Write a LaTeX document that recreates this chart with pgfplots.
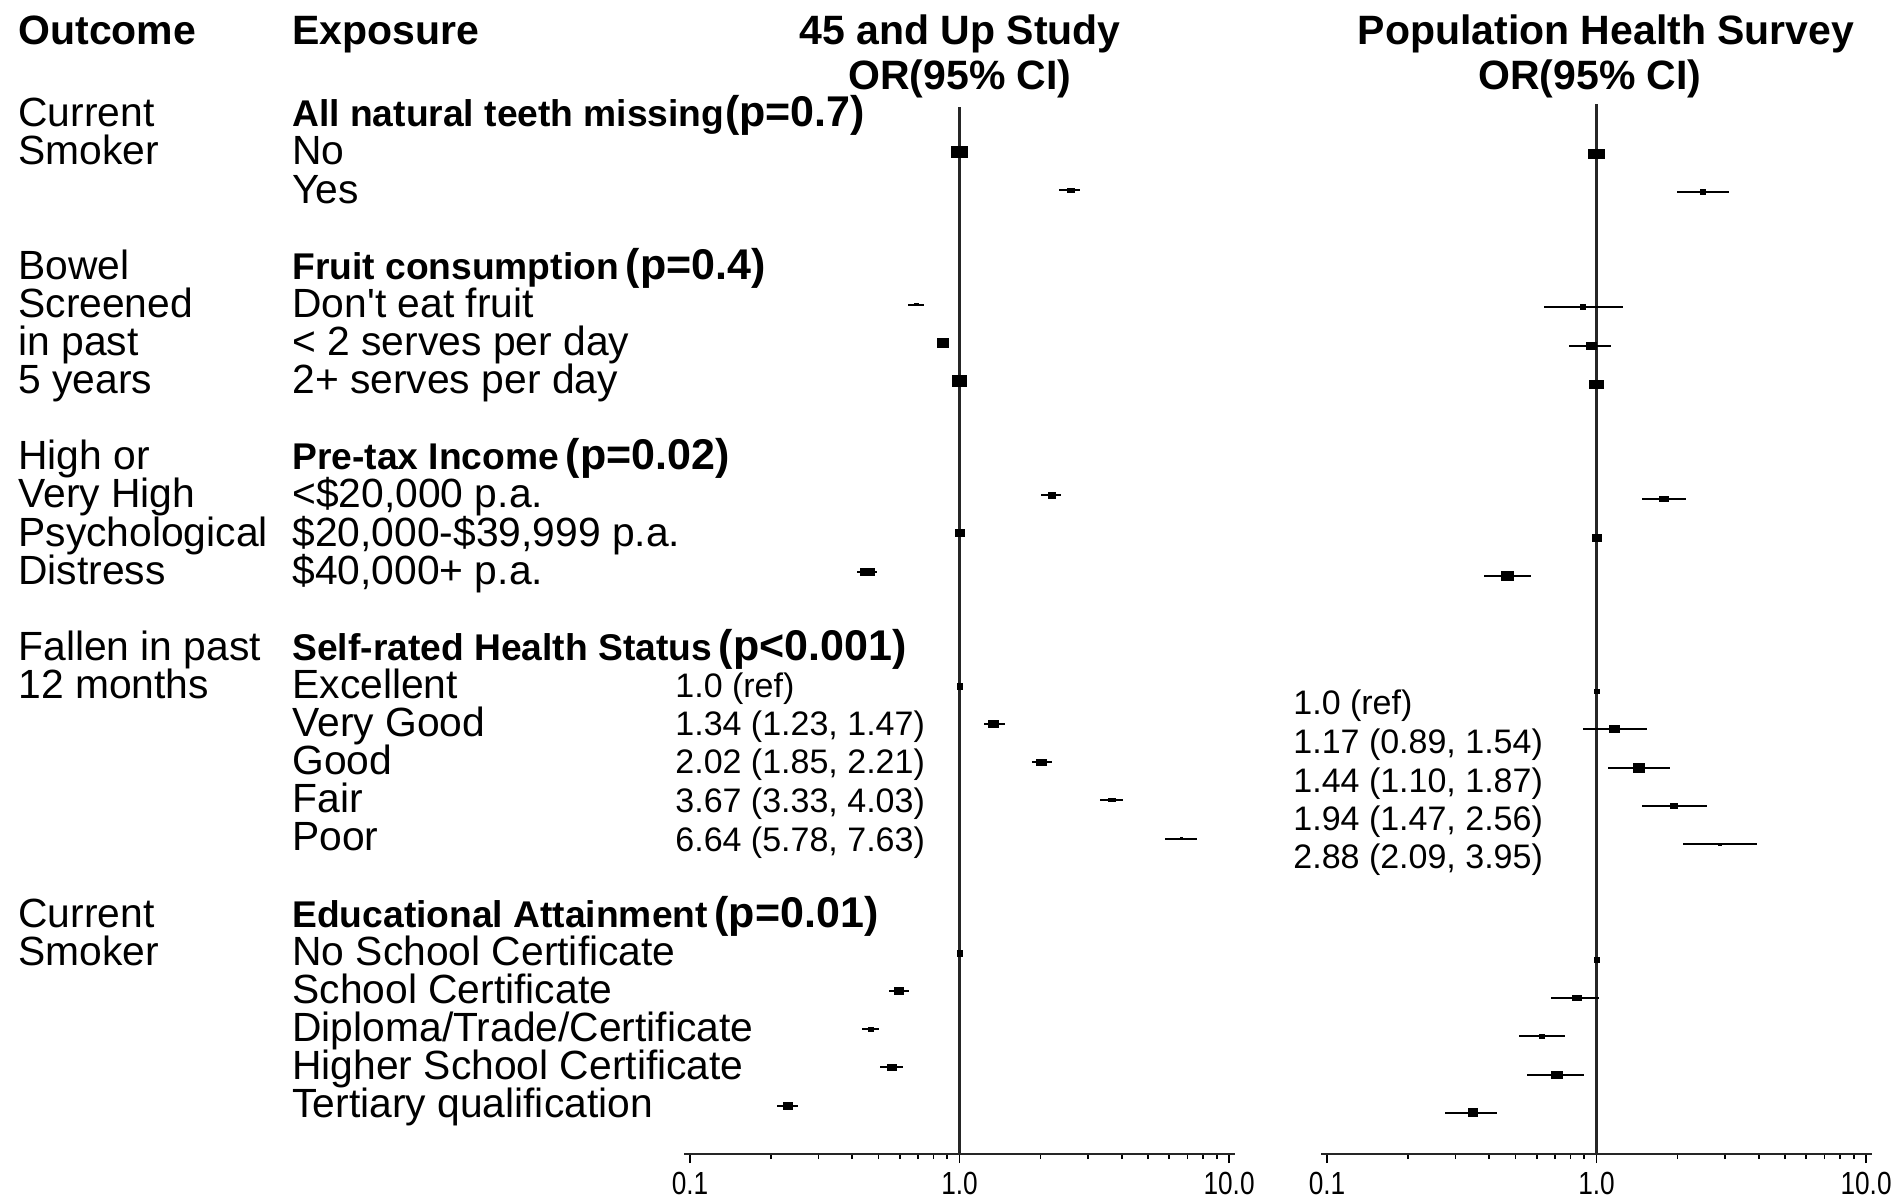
\documentclass[border=0pt]{standalone}
\usepackage{pgfplots}
\pgfplotsset{compat=1.18}
\usepackage{pgfplotstable}
\usepackage{fontspec}
\setmainfont{Liberation Sans}
\newfontfamily\narrowsans[FakeStretch=0.82]{Liberation Sans}

\newcommand\hdr{\fontsize{20.5}{20.5}\bfseries\selectfont}
\newcommand\reg{\fontsize{20.4}{20.4}\selectfont}
\newcommand\sub{\fontsize{18.6}{18.6}\bfseries\selectfont}
\newcommand\pv{\fontsize{21.5}{21.5}\bfseries\selectfont}
\newcommand\val{\fontsize{17}{17}\selectfont}
\newcommand\tkl{\narrowsans\fontsize{16}{16}\selectfont}
\newcommand\by[1]{126.9+38.1*#1}

% 45 and Up Study: row (negative), OR, lower, upper, box width/height (px)
\pgfplotstableread{
row or lo hi w h
-1 1.00 1.00 1.00 17 12
-2 2.59 2.34 2.81 8 5
-5 0.69 0.645 0.738 5 3
-6 0.87 0.85 0.89 12 10
-7 1.00 1.00 1.00 15 12
-10 2.20 2.01 2.38 8 7
-11 1.00 1.00 1.00 10 8
-12 0.455 0.415 0.495 15 8
-15 1.00 1.00 1.00 6 7
-16 1.34 1.23 1.47 11 8
-17 2.02 1.85 2.21 11 7
-18 3.67 3.33 4.03 8 4
-19 6.64 5.78 7.63 3 3
-22 1.00 1.00 1.00 6 7
-23 0.596 0.548 0.647 10 8
-24 0.468 0.435 0.504 6 5
-25 0.562 0.505 0.615 10 7
-26 0.230 0.211 0.2515 10 8
}\tabA

% Population Health Survey
\pgfplotstableread{
row or lo hi w h
-1 1.00 1.00 1.00 17 10
-2 2.48 1.99 3.10 6 6
-5 0.891 0.638 1.249 6 6
-6 0.956 0.788 1.132 11 8
-7 1.00 1.00 1.00 15 9
-10 1.785 1.478 2.154 10 6
-11 1.00 1.00 1.00 10 8
-12 0.468 0.382 0.573 13 10
-15 1.00 1.00 1.00 6 5
-16 1.17 0.89 1.54 11 8
-17 1.44 1.10 1.87 12 10
-18 1.94 1.47 2.56 8 6
-19 2.88 2.09 3.95 4 3
-22 1.00 1.00 1.00 6 6
-23 0.847 0.680 1.025 10 6
-24 0.630 0.514 0.762 6 5
-25 0.714 0.550 0.896 12 8
-26 0.3475 0.2745 0.4266 10 9
}\tabB

\pgfdeclareplotmark{fbox}{%
  \pgfpathrectangle{\pgfpoint{-0.25pt*\mw}{-0.25pt*\mh}}{\pgfpoint{0.5pt*\mw}{0.5pt*\mh}}%
  \pgfusepathqfill}

\begin{document}
\begin{tikzpicture}
\begin{scope}[x=0.5pt,y=-0.5pt]
\path[use as bounding box] (0,0) rectangle (1899,1203);
\end{scope}

\begin{axis}[at={(342pt,-577pt)}, anchor=south west,
    xmode=log, xmin=0.095, xmax=10.52,
    scale only axis, width=275.5pt, height=523.5pt, ymin=-27.27, ymax=0.18,
    axis x line=bottom, axis y line=none,
    x axis line style={-, line width=1pt, black!85},
    xtick={0.1,1,10}, xticklabels={0.1,1.0,10.0},
    minor xtick={0.2,0.3,0.4,0.5,0.6,0.7,0.8,0.9,2,3,4,5,6,7,8,9},
    xtick pos=bottom, xtick align=outside,
    major tick length=4.5pt, minor tick length=2.5pt,
    every tick/.style={black, line width=0.8pt},
    ytick=\empty,
    xticklabel style={font=\tkl, anchor=base, yshift=-15.5pt, inner sep=0pt},
    clip=false]
\addplot[black!85, line width=1.1pt] coordinates {(1,-27.27) (1,0.18)};
\addplot[black, only marks, mark=fbox,
    visualization depends on={\thisrow{w}\as\mw},
    visualization depends on={\thisrow{h}\as\mh},
    error bars/.cd, x dir=both, x explicit, error mark=none,
    error bar style={line width=1pt, black}]
  table[x=or, y=row,
  x error plus expr=\thisrow{hi}-\thisrow{or},
  x error minus expr=\thisrow{or}-\thisrow{lo}] {\tabA};
\end{axis}

\begin{axis}[at={(660.5pt,-577pt)}, anchor=south west,
    xmode=log, xmin=0.095, xmax=10.52,
    scale only axis, width=275.5pt, height=525pt, ymin=-27.07, ymax=0.305,
    axis x line=bottom, axis y line=none,
    x axis line style={-, line width=1pt, black!85},
    xtick={0.1,1,10}, xticklabels={0.1,1.0,10.0},
    minor xtick={0.2,0.3,0.4,0.5,0.6,0.7,0.8,0.9,2,3,4,5,6,7,8,9},
    xtick pos=bottom, xtick align=outside,
    major tick length=4.5pt, minor tick length=2.5pt,
    every tick/.style={black, line width=0.8pt},
    ytick=\empty,
    xticklabel style={font=\tkl, anchor=base, yshift=-15.5pt, inner sep=0pt},
    clip=false]
\addplot[black!85, line width=1.1pt] coordinates {(1,-27.07) (1,0.305)};
\addplot[black, only marks, mark=fbox,
    visualization depends on={\thisrow{w}\as\mw},
    visualization depends on={\thisrow{h}\as\mh},
    error bars/.cd, x dir=both, x explicit, error mark=none,
    error bar style={line width=1pt, black}]
  table[x=or, y=row,
  x error plus expr=\thisrow{hi}-\thisrow{or},
  x error minus expr=\thisrow{or}-\thisrow{lo}] {\tabB};
\end{axis}

\begin{scope}[x=0.5pt,y=-0.5pt, every node/.style={inner sep=0pt, anchor=base west}]
% headers
\node[font=\hdr] at (18,45) {Outcome};
\node[font=\hdr] at (292,45) {Exposure};
\node[font=\hdr, anchor=base] at (960,45) {45 and Up Study};
\node[font=\hdr, anchor=base] at (960,90) {OR(95\% CI)};
\node[font=\hdr, anchor=base] at (1606,45) {Population Health Survey};
\node[font=\hdr, anchor=base] at (1590,90) {OR(95\% CI)};
% outcome column
\node[font=\reg] at (18,{\by{0}}) {Current};
\node[font=\reg] at (18,{\by{1}}) {Smoker};
\node[font=\reg] at (18,{\by{4}}) {Bowel};
\node[font=\reg] at (18,{\by{5}}) {Screened};
\node[font=\reg] at (18,{\by{6}}) {in past};
\node[font=\reg] at (18,{\by{7}}) {5 years};
\node[font=\reg] at (18,{\by{9}}) {High or};
\node[font=\reg] at (18,{\by{10}}) {Very High};
\node[font=\reg] at (18,{\by{11}}) {Psychological};
\node[font=\reg] at (18,{\by{12}}) {Distress};
\node[font=\reg] at (18,{\by{14}}) {Fallen in past};
\node[font=\reg] at (18,{\by{15}}) {12 months};
\node[font=\reg] at (18,{\by{21}}) {Current};
\node[font=\reg] at (18,{\by{22}}) {Smoker};
% exposure column
\node[font=\sub] (s0) at (292,{\by{0}}) {All natural teeth missing};
\node[font=\pv] at (s0.base east) {(p=0.7)};
\node[font=\reg] at (292,{\by{1}}) {No};
\node[font=\reg] at (292,{\by{2}}) {Yes};
\node[font=\sub] (s1) at (292,{\by{4}}) {Fruit consumption};
\node[font=\pv, xshift=3pt] at (s1.base east) {(p=0.4)};
\node[font=\reg] at (292,{\by{5}}) {Don\textquotesingle{}t eat fruit};
\node[font=\reg] at (292,{\by{6}}) {< 2 serves per day};
\node[font=\reg] at (292,{\by{7}}) {2+ serves per day};
\node[font=\sub] (s2) at (292,{\by{9}}) {Pre-tax Income};
\node[font=\pv, xshift=3pt] at (s2.base east) {(p=0.02)};
\node[font=\reg] at (292,{\by{10}}) {<\$20,000 p.a.};
\node[font=\reg] at (292,{\by{11}}) {\$20,000-\$39,999 p.a.};
\node[font=\reg] at (292,{\by{12}}) {\$40,000+ p.a.};
\node[font=\sub] (s3) at (292,{\by{14}}) {Self-rated Health Status};
\node[font=\pv, xshift=3pt] at (s3.base east) {(p<0.001)};
\node[font=\reg] at (292,{\by{15}}) {Excellent};
\node[font=\reg] at (292,{\by{16}}) {Very Good};
\node[font=\reg] at (292,{\by{17}}) {Good};
\node[font=\reg] at (292,{\by{18}}) {Fair};
\node[font=\reg] at (292,{\by{19}}) {Poor};
\node[font=\sub] (s4) at (292,{\by{21}}) {Educational Attainment};
\node[font=\pv, xshift=3pt] at (s4.base east) {(p=0.01)};
\node[font=\reg] at (292,{\by{22}}) {No School Certificate};
\node[font=\reg] at (292,{\by{23}}) {School Certificate};
\node[font=\reg] at (292,{\by{24}}) {Diploma/Trade/Certificate};
\node[font=\reg] at (292,{\by{25}}) {Higher School Certificate};
\node[font=\reg] at (292,{\by{26}}) {Tertiary qualification};
% OR values 45 and Up
\node[font=\val] at (675,697) {1.0 (ref)};
\node[font=\val] at (675,735) {1.34 (1.23, 1.47)};
\node[font=\val] at (675,773) {2.02 (1.85, 2.21)};
\node[font=\val] at (675,812) {3.67 (3.33, 4.03)};
\node[font=\val] at (675,851) {6.64 (5.78, 7.63)};
% OR values PHS
\node[font=\val] at (1293,714) {1.0 (ref)};
\node[font=\val] at (1293,753) {1.17 (0.89, 1.54)};
\node[font=\val] at (1293,792) {1.44 (1.10, 1.87)};
\node[font=\val] at (1293,830) {1.94 (1.47, 2.56)};
\node[font=\val] at (1293,868) {2.88 (2.09, 3.95)};
\end{scope}
\end{tikzpicture}
\end{document}
